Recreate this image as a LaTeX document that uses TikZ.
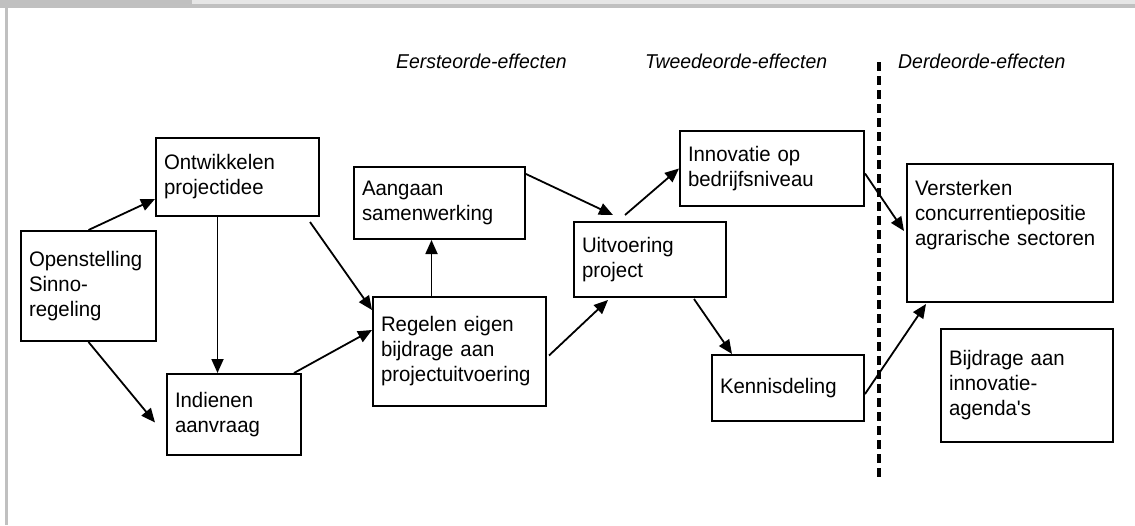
\documentclass[tikz,border=0pt]{standalone}
\usepackage{fontspec}
\setmainfont{Liberation Sans}[Ligatures=TeXOff, FakeStretch=0.97]
\usepackage{tikz}
\usetikzlibrary{positioning}
\usetikzlibrary{calc}
\usetikzlibrary{arrows.meta}

\definecolor{framedark}{HTML}{C0C0C0}
\definecolor{framelight}{HTML}{E6E6E6}

\begin{document}
\begin{tikzpicture}[x=1pt, y=-1pt,
                squarednode/.style={rectangle, draw, line width=2pt, align=left, anchor=north west, inner xsep=8pt, inner ysep=0pt, font=\fontsize{21}{25}\selectfont},
                effectlabel/.style={anchor=base west, inner sep=0pt, font=\fontsize{20}{25}\selectfont\itshape},
                arrowline/.style={line width=1.8pt, -{Triangle[length=14pt, width=12pt]}},
                divider/.style={line width=4pt, dash pattern=on 9pt off 5pt},
            ]
            \useasboundingbox (0,0) rectangle (1135,525);

            % Frame
            \fill[framedark] (0,0) rectangle (192,8);
            \fill[framelight] (192,0) rectangle (1135,4);
            \fill[framedark] (192,4) rectangle (1135,8);
            \fill[framedark] (5,8) rectangle (8,525);

            % Headings
            \node[effectlabel]      (eerste)      at (396,68)     {Eersteorde-effecten};
            \node[effectlabel]      (tweede)      at (645,68)     {Tweedeorde-effecten};
            \node[effectlabel]      (derde)       at (898,68)     {Derdeorde-effecten};

            \coordinate (dtop) at (879,62);
            \coordinate (dbot) at (879,480);
            \draw[divider] (dtop) -- (dbot);

            % Nodes
            \node[squarednode, text width=119pt, minimum height=110pt]    (open)    at (20,230)    {Openstelling\\Sinno-\\regeling};
            \node[squarednode, text width=147pt, minimum height=78pt]     (ontw)    at (155,137)   {Ontwikkelen\\projectidee};
            \node[squarednode, text width=118pt, minimum height=81pt]     (indien)  at (166,373)   {Indienen\\aanvraag};
            \node[squarednode, text width=155pt, minimum height=72pt]     (aang)    at (353,166)   {Aangaan\\samenwerking};
            \node[squarednode, text width=157pt, minimum height=109pt]    (regel)   at (372,296)   {Regelen eigen\\bijdrage aan\\projectuitvoering};
            \node[squarednode, text width=136pt, minimum height=75pt]     (uitv)    at (573,221)   {Uitvoering\\project};
            \node[squarednode, text width=168pt, minimum height=75pt]     (innov)   at (679,130)   {Innovatie op\\bedrijfsniveau};
            \node[squarednode, text width=136pt, minimum height=66pt]     (kennis)  at (711,354)   {Kennisdeling};
            \node[squarednode, text width=190pt, minimum height=138pt]    (verst)   at (906,163)   {Versterken\\concurrentiepositie\\agrarische sectoren\\[16pt]\mbox{}};
            \node[squarednode, text width=156pt, minimum height=113pt]    (bijdr)   at (940,328)   {Bijdrage aan\\innovatie-\\agenda's};

            %Lines
            \draw[arrowline] (open.north) -- ($(ontw.south west)+(0,-18)$);
            \draw[arrowline] (open.south) -- ($(indien.west)+(-11,8)$);
            \draw[arrowline] ($(ontw.south)+(-20,0)$) -- ($(ontw.south |- indien.north)+(-20,0)$);

            \draw[arrowline] ($(ontw.south east)+(-10,5)$) -- ($(regel.north west)+(0,14)$);
            \draw[arrowline] ($(indien.north east)+(-8,0)$) -- ($(regel.north west)+(0,34)$);
            \draw[arrowline] ($(regel.north)+(-28,0)$) -- ($(regel.north |- aang.south)+(-28,0)$);

            \draw[arrowline] ($(aang.north east)+(0,8)$) -- ($(uitv.north west)+(40,-6)$);
            \draw[arrowline] ($(regel.east)+(2,4)$) -- ($(uitv.south west)+(35,2)$);

            \draw[arrowline] ($(uitv.north west)+(52,-6)$) -- (innov.west);
            \draw[arrowline] ($(uitv.south west)+(121,1)$) -- ($(kennis.north west)+(21,0)$);

            \draw[arrowline] ($(innov.east)+(0,5)$) -- ($(verst.west)+(-2,-2)$);
            \draw[arrowline] ($(kennis.east)+(0,6)$) -- ($(verst.south west)+(20,1)$);
        \end{tikzpicture}
\end{document}
